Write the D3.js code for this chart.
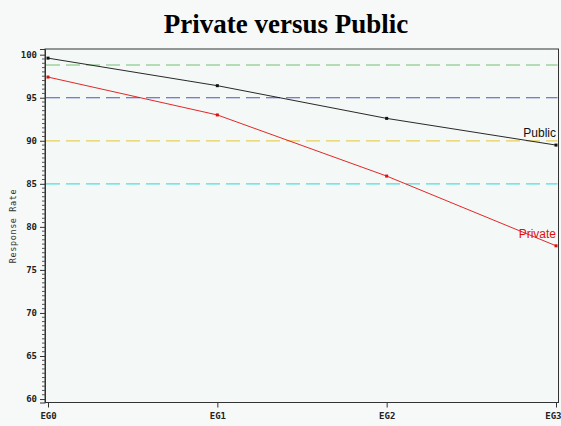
<!DOCTYPE html>
<html>
<head>
<meta charset="utf-8">
<script src="https://cdn.jsdelivr.net/npm/d3@7"></script>
<style>
  html, body { margin: 0; padding: 0; background: #f7f9f8; }
  svg { display: block; }
</style>
</head>
<body>
<svg id="chart" width="561" height="426"></svg>
<script>
// Response rate by group, private vs public sector
const categories = ["EG0", "EG1", "EG2", "EG3"];
const publicValues = [99.6, 96.4, 92.6, 89.5];
const privateValues = [97.4, 93.0, 85.9, 77.8];
const referenceLevels = [98.8, 95, 90, 85];
const referenceColors = ["#72bd72", "#5050c8", "#e6cf55", "#4fdede"];
const yTicks = [60, 65, 70, 75, 80, 85, 90, 95, 100];

const svg = d3.select("#chart");
const plotLeft = 45, plotRight = 558.5, plotTop = 49, plotBottom = 402.5;

// title
svg.append("text")
  .attr("x", 286).attr("y", 33)
  .attr("text-anchor", "middle")
  .attr("font-family", "'Liberation Serif', 'Times New Roman', serif")
  .attr("font-weight", "bold")
  .attr("font-size", 27)
  .attr("fill", "#000")
  .text("Private versus Public");

const x = d3.scalePoint().domain(categories).range([48, 556]);
const y = d3.scaleLinear().domain([59.6, 100.66]).range([plotBottom, plotTop]);

// plot frame
svg.append("rect")
  .attr("x", plotLeft).attr("y", plotTop)
  .attr("width", plotRight - plotLeft).attr("height", plotBottom - plotTop)
  .attr("fill", "#f4f8f6").attr("stroke", "#333").attr("stroke-width", 1);

// horizontal reference lines
svg.append("g").selectAll("line")
  .data(referenceLevels)
  .join("line")
  .attr("x1", plotLeft + 1).attr("x2", plotRight - 1)
  .attr("y1", d => y(d)).attr("y2", d => y(d))
  .attr("stroke", (d, i) => referenceColors[i])
  .attr("stroke-width", 1.2)
  .attr("stroke-dasharray", "14,6");

// y axis with minor ticks
const yAxisG = svg.append("g").attr("transform", `translate(${plotLeft},0)`);
const minor = d3.range(60, 100.01, 0.5).filter(v => v % 5 !== 0);
yAxisG.selectAll("line.minor")
  .data(minor)
  .join("line")
  .attr("class", "minor")
  .attr("x1", -3).attr("x2", 0)
  .attr("y1", d => y(d)).attr("y2", d => y(d))
  .attr("stroke", "#555").attr("stroke-width", 1);
const yAxis = d3.axisLeft(y).tickValues(yTicks).tickSize(5).tickPadding(3).tickFormat(d3.format("d"));
yAxisG.call(yAxis);
yAxisG.select(".domain").attr("stroke", "#333");
yAxisG.selectAll(".tick line").attr("stroke", "#333");
yAxisG.selectAll(".tick text")
  .attr("font-family", "'DejaVu Sans Mono', monospace")
  .attr("font-weight", "bold")
  .attr("font-size", 9)
  .attr("fill", "#222");

// x axis
const xAxisG = svg.append("g").attr("transform", `translate(0,${plotBottom})`);
xAxisG.call(d3.axisBottom(x).tickSize(5).tickPadding(5));
xAxisG.select(".domain").remove();
xAxisG.selectAll(".tick line").attr("stroke", "#333");
xAxisG.selectAll(".tick text")
  .attr("font-family", "'DejaVu Sans Mono', monospace")
  .attr("font-weight", "bold")
  .attr("font-size", 9)
  .attr("fill", "#222")
  .attr("text-anchor", (d, i, n) => i === n.length - 1 ? "end" : "middle")
  .attr("dx", (d, i, n) => i === n.length - 1 ? 5 : 0);

// y axis title
svg.append("text")
  .attr("transform", `translate(16,226) rotate(-90)`)
  .attr("text-anchor", "middle")
  .attr("font-family", "'DejaVu Sans Mono', monospace")
  .attr("font-size", 8.5)
  .attr("letter-spacing", 0.6)
  .attr("fill", "#333")
  .text("Response Rate");

// series
const series = [
  { name: "Public", values: publicValues, color: "#111111", labelDy: -8 },
  { name: "Private", values: privateValues, color: "#e01010", labelDy: -8 }
];
const line = d3.line().x((d, i) => x(categories[i])).y(d => y(d));

series.forEach(s => {
  svg.append("path")
    .datum(s.values)
    .attr("d", line)
    .attr("fill", "none")
    .attr("stroke", s.color)
    .attr("stroke-width", 0.9);
  svg.append("g").selectAll("rect")
    .data(s.values)
    .join("rect")
    .attr("x", (d, i) => x(categories[i]) - 1.5)
    .attr("y", d => y(d) - 1.5)
    .attr("width", 3).attr("height", 3)
    .attr("fill", s.color);
  const last = s.values[s.values.length - 1];
  svg.append("text")
    .attr("x", 556).attr("y", y(last) + s.labelDy)
    .attr("text-anchor", "end")
    .attr("font-family", "'Liberation Sans', Arial, sans-serif")
    .attr("font-size", 12)
    .attr("fill", s.color)
    .text(s.name);
});
</script>
</body>
</html>
